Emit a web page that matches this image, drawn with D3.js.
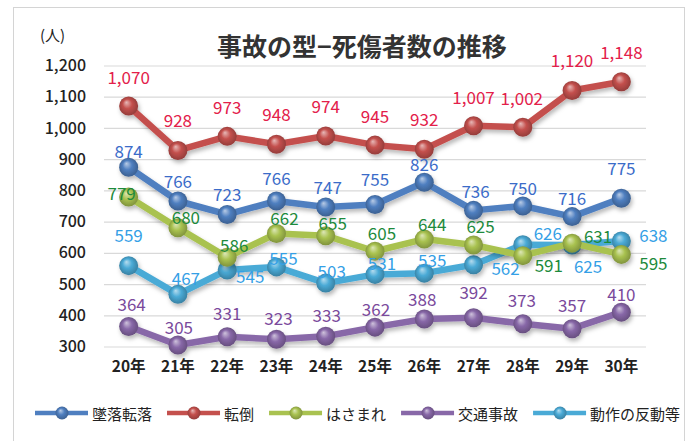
<!DOCTYPE html>
<html><head><meta charset="utf-8">
<script src="https://cdn.jsdelivr.net/npm/d3@7/dist/d3.min.js"></script>
<style>
html,body{margin:0;padding:0;background:#fff;}
svg{display:block;font-family:"Noto Sans CJK JP","Noto Sans",sans-serif;}
</style></head>
<body>
<svg id="chart" width="688" height="441"></svg>
<script>
// ---- data ----
const years = ["20年","21年","22年","23年","24年","25年","26年","27年","28年","29年","30年"];
const seriesNames = ["墜落転落","転倒","はさまれ","交通事故","動作の反動等"];
const fall     = [874, 766, 723, 766, 747, 755, 826, 736, 750, 716, 775];
const tumble   = [1070, 928, 973, 948, 974, 945, 932, 1007, 1002, 1120, 1148];
const caught   = [779, 680, 586, 662, 655, 605, 644, 625, 591, 631, 595];
const traffic  = [364, 305, 331, 323, 333, 362, 388, 392, 373, 357, 410];
const reaction = [559, 467, 545, 555, 503, 531, 535, 562, 626, 625, 638];
const yTicks = [300, 400, 500, 600, 700, 800, 900, 1000, 1100, 1200];

// ---- styling / layout (not data) ----
const lineColors  = ["#4f7fc0", "#c4504d", "#a9c250", "#8868a8", "#4aaad6"];
const labelColors = ["#3b6cc9", "#e3204a", "#1d8a3c", "#7a4a9c", "#35a0e6"];
const labelOffsets = [
  [[0,-17],[0,-21],[0,-21],[0,-24],[2,-20],[0,-26],[0,-19],[2,-20],[0,-19],[0,-19],[0,-31]],
  [[0,-30],[0,-31],[0,-30],[0,-31],[0,-31],[0,-30],[0,-31],[0,-29],[-1,-30],[0,-31],[0,-30]],
  [[-7,-4],[8,-11],[7,-13],[8,-16],[7,-13],[7,-19],[8,-16],[7,-20],[26,9],[26,-8],[32,8]],
  [[3,-23],[1,-18],[0,-24],[2,-22],[1,-22],[1,-19],[-2,-21],[0,-26],[-1,-24],[0,-24],[0,-19]],
  [[0,-31],[8,-17],[23,5],[7,-9],[6,-13],[7,-12],[8,-14],[32,3],[25,-12],[16,20],[32,-6]]
];
const allSeries = [fall, tumble, caught, traffic, reaction];

const svg = d3.select("#chart");
const defs = svg.append("defs");

// frame
svg.append("rect").attr("x", 13.5).attr("y", 7.5).attr("width", 671).attr("height", 440)
  .attr("fill", "#fff").attr("stroke", "#d4d4d4").attr("stroke-width", 1);

const x = d3.scaleBand().domain(years).range([104, 646]);
const xc = d => x(d) + x.bandwidth() / 2;
const y = d3.scaleLinear().domain([300, 1200]).range([346.5, 65.5]);

// gridlines
const grid = svg.append("g").attr("transform", "translate(104,0)")
  .call(d3.axisLeft(y).tickValues(yTicks).tickSize(-542).tickFormat(""));
grid.select(".domain").remove();
grid.selectAll("line").attr("stroke", "#d9d9d9").attr("stroke-width", 1.2);

// y axis labels
const yAxis = svg.append("g").attr("transform", "translate(86,0)")
  .call(d3.axisLeft(y).tickValues(yTicks).tickSize(0).tickPadding(0).tickFormat(d3.format(",")));
yAxis.select(".domain").remove();
yAxis.selectAll("text").attr("font-size", 16).attr("fill", "#222").attr("font-weight", 500)
  .attr("font-family", "'Noto Sans CJK JP','Noto Sans',sans-serif");

// x axis labels
const xAxis = svg.append("g").attr("transform", "translate(0,360)")
  .call(d3.axisBottom(x).tickSize(0).tickPadding(0));
xAxis.select(".domain").remove();
xAxis.selectAll("text").attr("font-size", 15.5).attr("fill", "#222").attr("font-weight", 700)
  .attr("dy", "0.75em")
  .attr("font-family", "'Noto Sans CJK JP','Noto Sans',sans-serif");

// title & unit
svg.append("text").attr("x", 362).attr("y", 45).attr("text-anchor", "middle")
  .attr("dominant-baseline", "central")
  .attr("font-size", 25).attr("font-weight", 700).attr("fill", "#333")
  .text("事故の型−死傷者数の推移");
svg.append("text").attr("x", 40).attr("y", 34).attr("dominant-baseline", "central")
  .attr("font-size", 15).attr("fill", "#222").text("(人)");

// shadow filter
const f = defs.append("filter").attr("id", "sh").attr("x", "-20%").attr("y", "-20%").attr("width", "140%").attr("height", "160%");
f.append("feDropShadow").attr("dx", 1.5).attr("dy", 3).attr("stdDeviation", 2)
  .attr("flood-color", "#000").attr("flood-opacity", 0.28);

// gradients for markers
lineColors.forEach((c, i) => {
  const g = defs.append("radialGradient").attr("id", "mk" + i)
    .attr("cx", "50%").attr("cy", "50%").attr("r", "55%").attr("fx", "38%").attr("fy", "30%");
  g.append("stop").attr("offset", "0%").attr("stop-color", d3.interpolateRgb(c, "#fff")(0.6));
  g.append("stop").attr("offset", "45%").attr("stop-color", c);
  g.append("stop").attr("offset", "100%").attr("stop-color", d3.color(c).darker(0.9));
});

const line = d3.line().x((d, i) => xc(years[i])).y(d => y(d));

// draw order: traffic, reaction, caught, fall, tumble
const order = [3, 4, 2, 0, 1];
order.forEach(si => {
  const vals = allSeries[si];
  const g = svg.append("g").attr("filter", "url(#sh)");
  g.append("path").datum(vals).attr("d", line).attr("fill", "none")
    .attr("stroke", lineColors[si]).attr("stroke-width", 6.5)
    .attr("stroke-linejoin", "round").attr("stroke-linecap", "round");
  g.selectAll("circle").data(vals).join("circle")
    .attr("cx", (d, i) => xc(years[i])).attr("cy", d => y(d)).attr("r", 9.5)
    .attr("fill", "url(#mk" + si + ")");
});

// labels
[0, 1, 2, 3, 4].forEach(si => {
  const vals = allSeries[si];
  svg.append("g").selectAll("text").data(vals).join("text")
    .attr("x", (d, i) => xc(years[i]) + labelOffsets[si][i][0])
    .attr("y", (d, i) => y(d) + labelOffsets[si][i][1])
    .attr("text-anchor", "middle").attr("dominant-baseline", "central")
    .attr("font-size", 17).attr("fill", labelColors[si])
    .text(d => d3.format(",")(d));
});

// legend
const legend = svg.append("g");
let lx = 35;
const ly = 413;
seriesNames.forEach((name, si) => {
  const g = legend.append("g");
  g.append("line").attr("x1", lx).attr("x2", lx + 53).attr("y1", ly).attr("y2", ly)
    .attr("stroke", lineColors[si]).attr("stroke-width", 4.5);
  g.append("circle").attr("cx", lx + 27).attr("cy", ly).attr("r", 6.5)
    .attr("fill", "url(#mk" + si + ")");
  const t = g.append("text").attr("x", lx + 57).attr("y", ly).attr("dominant-baseline", "central")
    .attr("font-size", 15).attr("fill", "#222").text(name);
  lx += 57 + t.node().getComputedTextLength() + 15;
});
</script>
</body></html>
